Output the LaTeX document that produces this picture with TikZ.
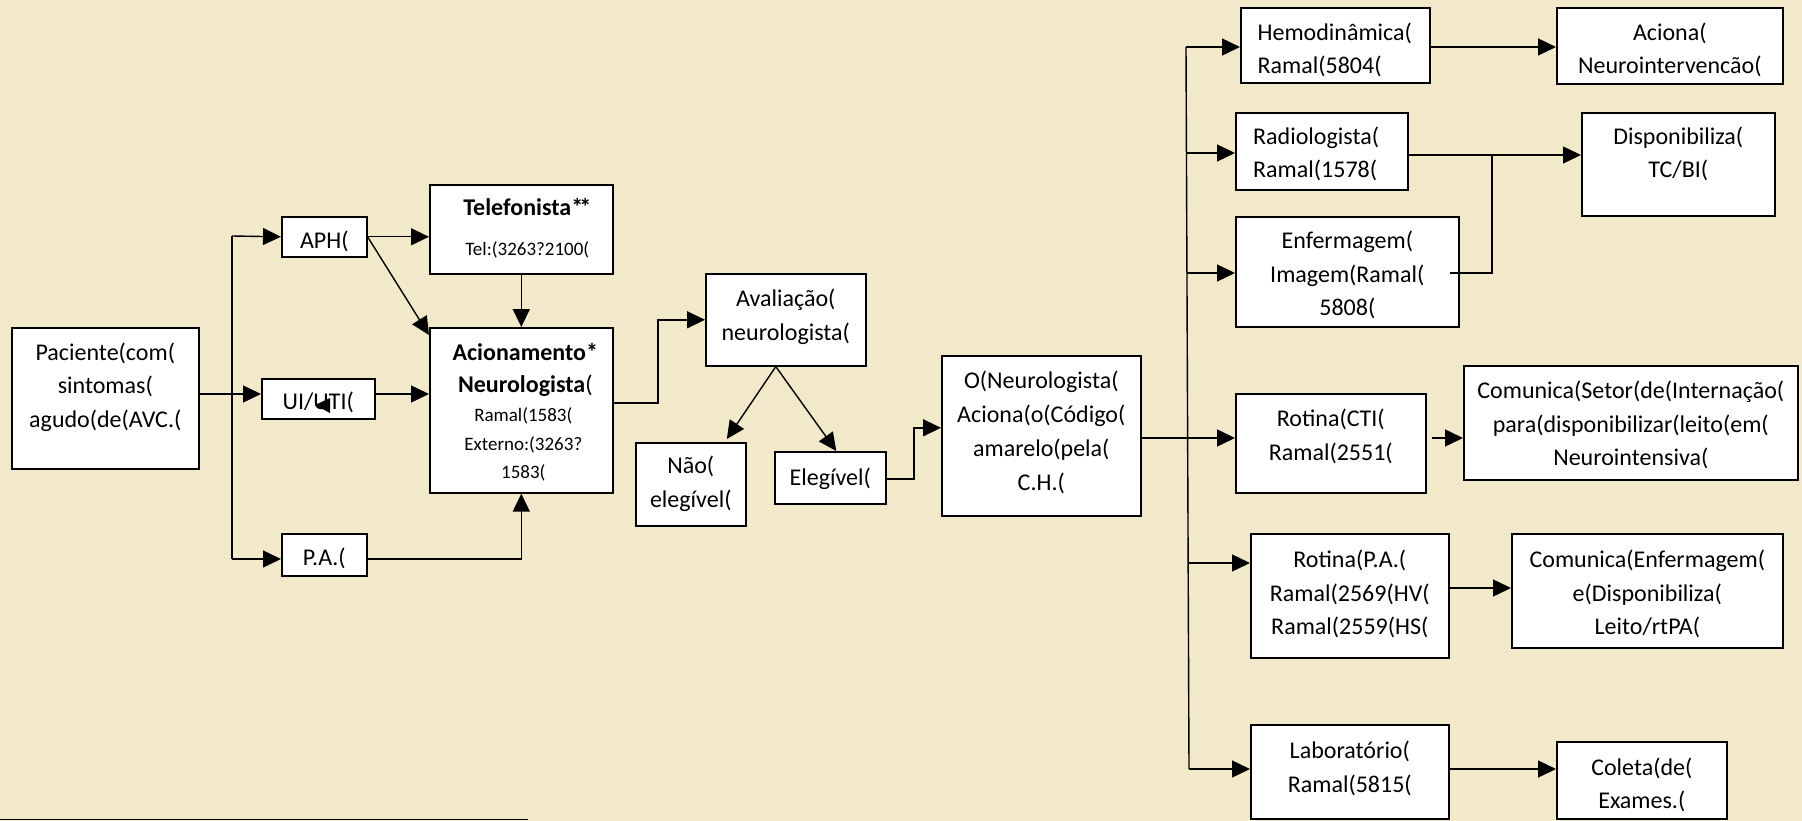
\documentclass[tikz,border=0pt]{standalone}
\usepackage{fontspec}
\setmainfont{Carlito}
\usetikzlibrary{arrows.meta,calc}
\definecolor{bg}{RGB}{241,233,201}
\tikzset{
  box/.style={draw, fill=white, line width=1.6pt, anchor=north west, inner sep=0pt},
  txt/.style={anchor=north, inner sep=0pt, align=center, font=\fontsize{24}{33.5}\selectfont},
  small/.style={font=\fontsize{19}{28.3}\selectfont},
  arr/.style={line width=1.4pt, -{Triangle[length=18pt,width=17pt]}},
  ln/.style={line width=1.4pt}
}
\begin{document}
\begin{tikzpicture}[x=1pt,y=-1pt]
\fill[bg] (0,0) rectangle (1802,821);
\useasboundingbox (0,0) rectangle (1802,821);

% boxes
\node[box, minimum width=187pt, minimum height=141pt] (pac) at (11,327) {};
\node[box, minimum width=85pt, minimum height=40pt] (aph) at (281,216) {};
\node[box, minimum width=183pt, minimum height=89pt] (tel) at (429,184) {};
\node[box, minimum width=113pt, minimum height=40pt] (uti) at (261,378) {};
\node[box, minimum width=183pt, minimum height=165pt] (aci) at (429,327) {};
\node[box, minimum width=85pt, minimum height=42pt] (pa) at (281,533) {};
\node[box, minimum width=160pt, minimum height=92pt] (ava) at (705,273) {};
\node[box, minimum width=110pt, minimum height=83pt] (nao) at (635,442) {};
\node[box, minimum width=111pt, minimum height=52pt] (ele) at (774,451) {};
\node[box, minimum width=199pt, minimum height=160pt] (oneu) at (941,355) {};
\node[box, minimum width=189pt, minimum height=75pt] (hemo) at (1240,7) {};
\node[box, minimum width=226pt, minimum height=76pt] (acn) at (1556,7) {};
\node[box, minimum width=172pt, minimum height=77pt] (rad) at (1235,112) {};
\node[box, minimum width=193pt, minimum height=103pt] (dis) at (1581,112) {};
\node[box, minimum width=223pt, minimum height=110pt] (enf) at (1235,216) {};
\node[box, minimum width=190pt, minimum height=99pt] (cti) at (1235,393) {};
\node[box, minimum width=334pt, minimum height=114pt] (cst) at (1463,365) {};
\node[box, minimum width=198pt, minimum height=124pt] (rpa) at (1250,533) {};
\node[box, minimum width=271pt, minimum height=114pt] (cen) at (1511,533) {};
\node[box, minimum width=198pt, minimum height=94pt] (lab) at (1250,724) {};
\node[box, minimum width=170pt, minimum height=77pt] (col) at (1556,741) {};

% texts
\node[txt] (pac-t) at (pac.north |- 0,336.5) {\strut Paciente(com(\\sintomas(\\agudo(de(AVC.(};
\node[txt] (aph-t) at (aph.north |- 0,224.9) {\strut APH(};
\node[txt] (tel-t1) at ([xshift=6pt]tel.north |- 0,192.3) {\strut\textbf{Telefonista*\kern-4pt*}};
\node[txt, small] (tel-t2) at ([xshift=6pt]tel.north |- 0,235.2) {\strut Tel:(3263?2100(};
\node[txt] (uti-t) at (uti.north |- 0,385.9) {\strut UI/UTI(};
\node[txt, font=\fontsize{24}{32.7}\selectfont] (aci-t1) at ([xshift=4pt]aci.north |- 0,337.1) {\strut\textbf{Acionamento*}\\\textbf{Neurologista}(};
\node[txt, small] (aci-t2) at ([xshift=2pt]aci.north |- 0,401.9) {\strut Ramal(1583(\\Externo:(3263?\\1583(};
\node[txt] (pa-t) at (pa.north |- 0,541.5) {\strut P.A.(};
\node[txt] (ava-t) at (ava.north |- 0,283.2) {\strut Avaliação(\\neurologista(};
\node[txt] (nao-t) at (nao.north |- 0,449.9) {\strut Não(\\elegível(};
\node[txt] (ele-t) at (ele.north |- 0,461.5) {\strut Elegível(};
\node[txt, font=\fontsize{24}{33.9}\selectfont] (oneu-t) at (oneu.north |- 0,364.6) {\strut O(Neurologista(\\Aciona(o(Código(\\amarelo(pela(\\C.H.(};
\node[txt, anchor=north west, align=left] (hemo-t) at (1257.4,16.5) {\strut Hemodinâmica(\\Ramal(5804(};
\node[txt] (acn-t) at (acn.north |- 0,16.5) {\strut Aciona(\\Neurointervencão(};
\node[txt, anchor=north west, align=left] (rad-t) at (1253,120.5) {\strut Radiologista(\\Ramal(1578(};
\node[txt] (dis-t) at (dis.north |- 0,120.5) {\strut Disponibiliza(\\TC/BI(};
\node[txt] (enf-t) at (enf.north |- 0,224.9) {\strut Enfermagem(\\Imagem(Ramal(\\5808(};
\node[txt] (cti-t) at (cti.north |- 0,403.2) {\strut Rotina(CTI(\\Ramal(2551(};
\node[txt] (cst-t) at (cst.north |- 0,374.9) {\strut Comunica(Setor(de(Internação(\\para(disponibilizar(leito(em(\\Neurointensiva(};
\node[txt] (rpa-t) at (rpa.north |- 0,543.9) {\strut Rotina(P.A.(\\Ramal(2569(HV(\\Ramal(2559(HS(};
\node[txt] (cen-t) at (cen.north |- 0,543.9) {\strut Comunica(Enfermagem(\\e(Disponibiliza(\\Leito/rtPA(};
\node[txt] (lab-t) at (lab.north |- 0,734.9) {\strut Laboratório(\\Ramal(5815(};
\node[txt] (col-t) at (col.north |- 0,751.5) {\strut Coleta(de(\\Exames.(};

% stray arrowhead over UI/UTI
\fill (315,405) -- (330,398) -- (330,413) -- cycle;

% left part connectors
\coordinate (yui) at (0,394);
\coordinate (tl) at (232,236);
\coordinate (bl) at (232,559);
\draw[ln] (tl) -- (bl);
\draw[arr] (pac.east |- yui) -- (uti.west |- yui);
\draw[arr] (tl) -- (aph.west);
\draw[arr] (bl) -- (pa.west |- bl);
\draw[arr] (aph.east) -- (tel.west |- aph.east);
\draw[arr] (aph.east) -- ([yshift=-8pt]aci.north west);
\draw[arr] (tel.south) -- (aci.north);
\draw[arr] (uti.east |- yui) -- (aci.west |- yui);
\draw[arr] (pa.east |- bl) -| (aci.south);

% middle connectors
\coordinate (k1) at (658,403);
\draw[arr] (aci.east |- k1) -- (k1) |- (ava.west);
\draw[arr] ([xshift=-10pt]ava.south) -- ([xshift=36pt,yshift=3pt]nao.north);
\draw[arr] ([xshift=-10pt]ava.south) -- ([xshift=6pt]ele.north);
\coordinate (k2) at (914,479);
\draw[arr] (ele.east |- k2) -- (k2) |- ([yshift=8pt]oneu.west);

% right part connectors
\coordinate (ycti) at (0,438);
\coordinate (tr1) at (1186,47);
\coordinate (tr2) at (1189,769);
\draw[ln] (tr1) -- (tr2);
\draw[arr] (oneu.east |- ycti) -- (cti.west |- ycti);
\draw[arr] (tr1) -- (hemo.west |- tr1);
\draw[arr] (1186,153) -- (rad.west |- 0,153);
\draw[arr] (1187,273) -- (enf.west |- 0,273);
\draw[arr] (1189,563) -- (rpa.west |- 0,563);
\draw[arr] (tr2) -- (lab.west |- tr2);
\draw[arr] (hemo.east |- tr1) -- (acn.west |- tr1);
\coordinate (jn) at (1492,155);
\draw[arr] (rad.east |- jn) -- (dis.west |- jn);
\coordinate (ef) at ([xshift=-10pt]enf.east |- 0,273);
\draw[ln] (ef) -| (jn);
\draw[arr] ([xshift=5pt]cti.east |- ycti) -- (cst.west |- ycti);
\draw[arr] (rpa.east |- 0,588) -- (cen.west |- 0,588);
\draw[arr] (lab.east |- tr2) -- (col.west |- tr2);

% bottom rule
\draw[line width=1.6pt] (0,819.5) -- (528,819.5);
\end{tikzpicture}
\end{document}
